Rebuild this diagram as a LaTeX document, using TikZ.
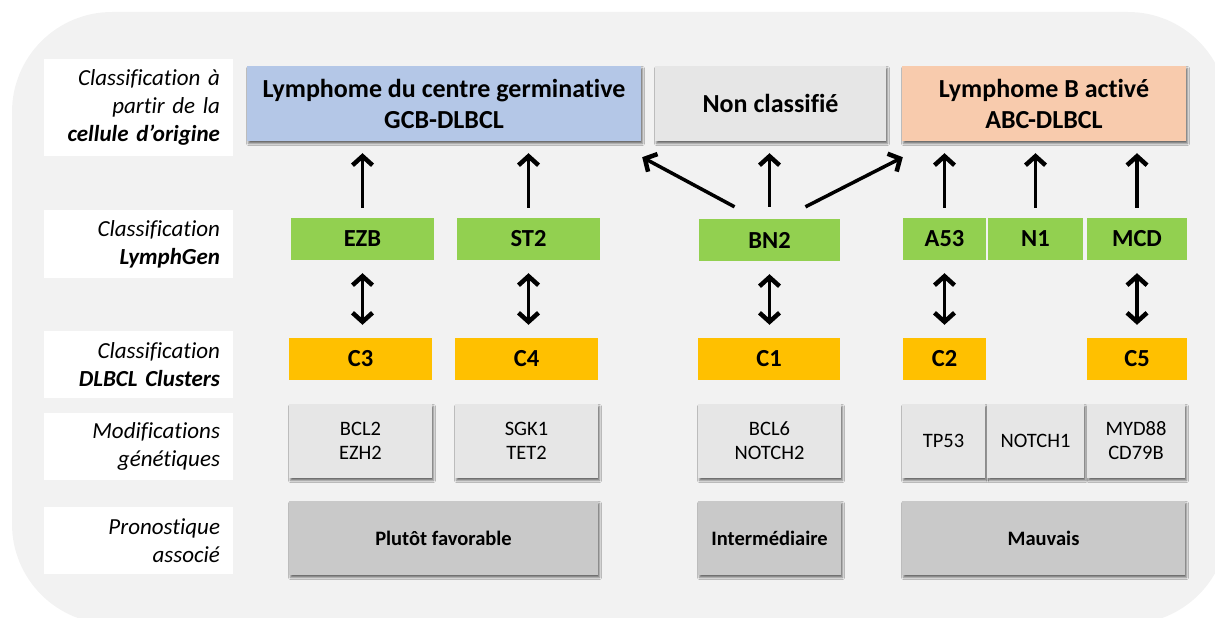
\documentclass[tikz,border=0pt]{standalone}
\usepackage{fontspec}
\setmainfont{Carlito}[Ligatures=NoCommon]
\usetikzlibrary{arrows.meta,shadows.blur,calc}
\definecolor{bgc}{HTML}{F2F2F2}
\definecolor{gcbc}{HTML}{B4C7E7}
\definecolor{abcc}{HTML}{F8CBAD}
\definecolor{ncc}{HTML}{E6E6E6}
\definecolor{lgc}{HTML}{92D050}
\definecolor{ccc}{HTML}{FFC000}
\definecolor{modc}{HTML}{E6E6E6}
\definecolor{progc}{HTML}{C9C9C9}
\tikzset{
  bx/.style={rectangle, inner sep=0pt, align=center},
  shad/.style={blur shadow={shadow xshift=1.5pt, shadow yshift=-2.5pt, shadow blur radius=2pt, shadow opacity=55}},
  title/.style={bx, shad, minimum height=75pt, font=\fontsize{26}{31}\selectfont\bfseries},
  lg/.style={bx, fill=lgc, minimum height=42pt, font=\fontsize{24.5}{28}\selectfont\bfseries},
  cl/.style={bx, fill=ccc, minimum height=42pt, font=\fontsize{24.5}{28}\selectfont\bfseries},
  modbox/.style={bx, shad, fill=modc, minimum height=74pt, font=\fontsize{20.5}{24}\selectfont},
  progbox/.style={bx, shad, fill=progc, minimum height=74pt, font=\fontsize{20.5}{24}\selectfont\bfseries},
  lab/.style={rectangle, fill=white, inner ysep=0pt, inner xsep=13pt, text width=163pt, align=right, font=\fontsize{23}{28}\selectfont\itshape},
  tip/.tip={Straight Barb[length=9pt,width=20pt,line width=1pt 1 1]},
  arr/.style={line width=3.5pt, -tip},
  dbl/.style={line width=3.5pt, tip-tip},
}
\begin{document}
\begin{tikzpicture}[x=1pt,y=-1pt]
\useasboundingbox (0,0) rectangle (1215,618);
\begin{scope}
\clip (0,0) rectangle (1215,618);
\fill[bgc, rounded corners=100pt] (12,12) rectangle (1228,624);
\end{scope}

% left labels
\node[lab, minimum height=97pt] (l1) at (138.5,107.5) {Classification à\\partir de la\\\textbf{cellule d’origine}};
\node[lab, minimum height=68pt] (l2) at (138.5,244) {Classification\\\textbf{LymphGen}};
\node[lab, minimum height=67pt] (l3) at (138.5,364.5) {Classification\\\textbf{DLBCL Clusters}};
\node[lab, minimum height=67pt] (l4) at (138.5,446.5) {Modifications\\génétiques};
\node[lab, minimum height=67pt] (l5) at (138.5,540.5) {Pronostique\\associé};

% top row
\node[title, fill=gcbc, minimum width=394pt] (gcb) at (444,103.5) {Lymphome du centre germinative\\GCB-DLBCL};
\node[title, fill=ncc, minimum width=231pt] (nc) at (770.5,103.5) {Non classifié};
\node[title, fill=abcc, minimum width=284pt] (abc) at (1044,103.5) {Lymphome B activé\\ABC-DLBCL};

% LymphGen row
\node[lg, minimum width=143pt] (ezb) at (362.5,239) {EZB};
\node[lg, minimum width=143pt] (st2) at (528.5,239) {ST2};
\node[lg, minimum width=141pt] (bn2) at (769.5,240) {BN2};
\node[lg, minimum width=83pt] (a53) at (944.5,239) {A53};
\node[lg, minimum width=95pt] (n1) at (1035.5,239) {N1};
\node[lg, minimum width=100pt] (mcd) at (1137,239) {MCD};

% clusters row
\node[cl, minimum width=143pt] (c3) at (360.5,359) {C3};
\node[cl, minimum width=143pt] (c4) at (526.5,359) {C4};
\node[cl, minimum width=142pt] (c1) at (769,359) {C1};
\node[cl, minimum width=83pt] (c2) at (944.5,359) {C2};
\node[cl, minimum width=100pt] (c5) at (1137,359) {C5};

% modifications row
\node[modbox, minimum width=143pt] (m1) at (360.5,441) {BCL2\\EZH2};
\node[modbox, minimum width=143pt] (m2) at (526.5,441) {SGK1\\TET2};
\node[modbox, minimum width=143pt] (m3) at (769.5,441) {BCL6\\NOTCH2};
\node[modbox, minimum width=83pt] (m4) at (943.5,441) {TP53};
\node[modbox, minimum width=97pt] (m5) at (1035.5,441) {NOTCH1};
\node[modbox, minimum width=98pt] (m6) at (1136,441) {MYD88\\CD79B};

% prognosis row
\node[progbox, minimum width=309pt] (p1) at (443.5,538) {Plutôt favorable};
\node[progbox, minimum width=143pt] (p2) at (769.5,538) {Intermédiaire};
\node[progbox, minimum width=283pt] (p3) at (1043.5,538) {Mauvais};

% arrows to top row
\draw[arr, shorten <=10pt, shorten >=12pt] (ezb.north) -- (ezb.north |- gcb.south);
\draw[arr, shorten <=10pt, shorten >=12pt] (st2.north) -- (st2.north |- gcb.south);
\draw[arr, shorten <=12pt, shorten >=12pt] (bn2.north) -- (bn2.north |- nc.south);
\draw[arr] ([shift={(-35,-12)}]bn2.north) -- ([shift={(1,16)}]gcb.south east);
\draw[arr] ([shift={(36,-12)}]bn2.north) -- ([shift={(1,16)}]abc.south west);
\draw[arr, shorten <=10pt, shorten >=12pt] (a53.north) -- (a53.north |- abc.south);
\draw[arr, shorten <=10pt, shorten >=12pt] (n1.north) -- (n1.north |- abc.south);
\draw[arr, shorten <=10pt, shorten >=12pt] (mcd.north) -- (mcd.north |- abc.south);

% double arrows
\draw[dbl, shorten <=13pt, shorten >=13pt] (ezb.south) -- (ezb.south |- c3.north);
\draw[dbl, shorten <=13pt, shorten >=13pt] (st2.south) -- (st2.south |- c4.north);
\draw[dbl, shorten <=13pt, shorten >=13pt] (bn2.south) -- (bn2.south |- c1.north);
\draw[dbl, shorten <=13pt, shorten >=13pt] (a53.south) -- (a53.south |- c2.north);
\draw[dbl, shorten <=13pt, shorten >=13pt] (mcd.south) -- (mcd.south |- c5.north);
\end{tikzpicture}
\end{document}
